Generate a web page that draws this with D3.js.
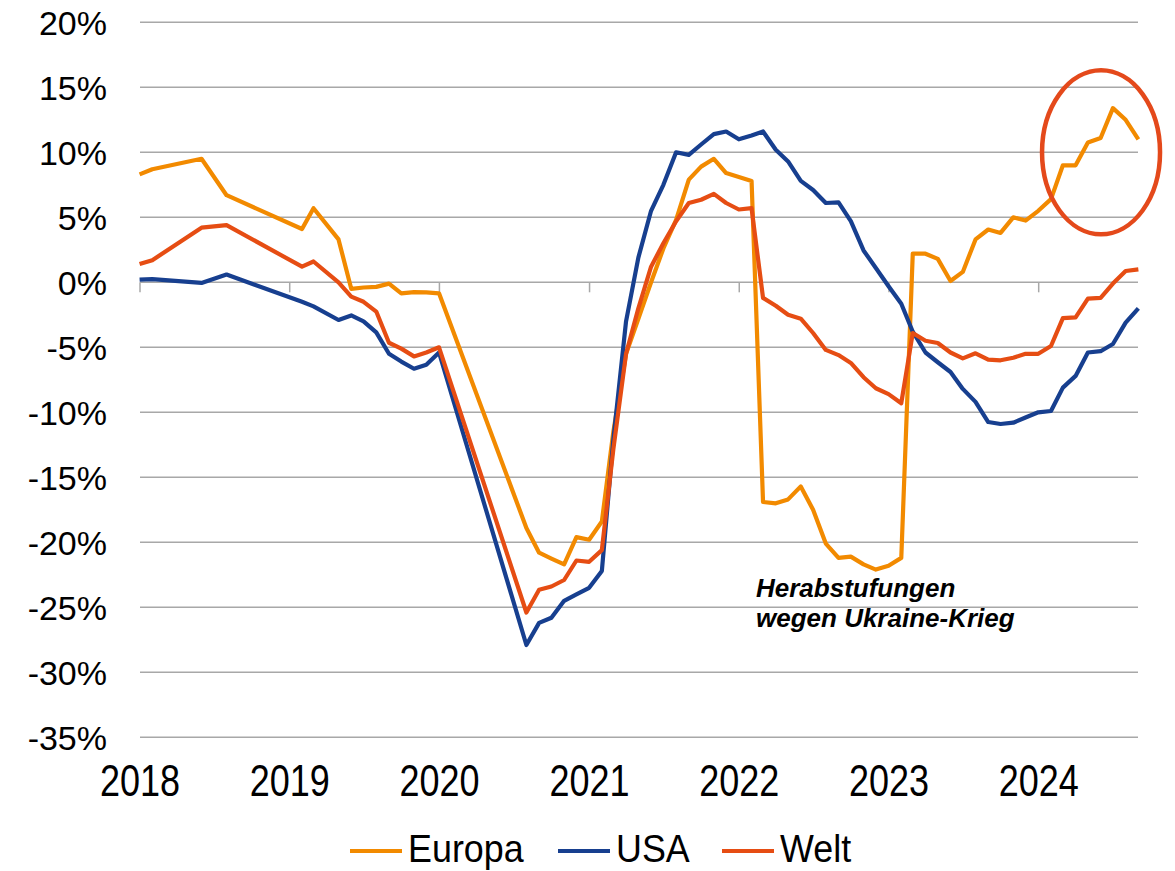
<!DOCTYPE html>
<html>
<head>
<meta charset="utf-8">
<script src="https://cdn.jsdelivr.net/npm/d3@7"></script>
<style>
  body { margin: 0; background: #fff; }
  svg { display: block; }
</style>
</head>
<body>
<div id="chart"></div>
<script>
// month-end observations (first point = end of Dec 2017)
const months = [
  "2017-12", "2018-01", "2018-05", "2018-07",
  "2019-01", "2019-02", "2019-04", "2019-05", "2019-06", "2019-07", "2019-08", "2019-09", "2019-10", "2019-11", "2019-12",
  "2020-07", "2020-08", "2020-09", "2020-10", "2020-11", "2020-12", "2021-01",
  "2021-02", "2021-03", "2021-04", "2021-05", "2021-06", "2021-07", "2021-08", "2021-09", "2021-10", "2021-11", "2021-12",
  "2022-01", "2022-02", "2022-03", "2022-04", "2022-05", "2022-06", "2022-07", "2022-08", "2022-09", "2022-10", "2022-11", "2022-12",
  "2023-01", "2023-02", "2023-03", "2023-04", "2023-05", "2023-06", "2023-07", "2023-08", "2023-09", "2023-10", "2023-11", "2023-12",
  "2024-01", "2024-02", "2024-03", "2024-04", "2024-05", "2024-06", "2024-07", "2024-08"
];

const europa = [
  8.3, 8.7, 9.5, 6.7,
  4.1, 5.7, 3.3, -0.5, -0.4, -0.35, -0.1, -0.85, -0.75, -0.77, -0.85,
  -18.9, -20.8, -21.25, -21.7, -19.6, -19.8, -18.4,
  -11.5, -5.5, -2.8, 0.0, 2.6, 4.8, 7.9, 8.9, 9.5, 8.4, 8.1,
  7.8, -16.9, -17.0, -16.7, -15.7, -17.5, -20.1, -21.2, -21.1, -21.7, -22.1, -21.8,
  -21.2, 2.2, 2.2, 1.8, 0.1, 0.8, 3.3, 4.06, 3.8, 5.0, 4.75, 5.5,
  6.4, 9.0, 9.0, 10.75, 11.1, 13.4, 12.5, 11.0
];

const usa = [
  0.2, 0.25, -0.05, 0.6,
  -1.5, -1.85, -2.9, -2.55, -3.0, -3.85, -5.5, -6.1, -6.65, -6.35, -5.4,
  -27.9, -26.2, -25.8, -24.5, -24.0, -23.5, -22.2,
  -12.1, -3.0, 1.9, 5.5, 7.5, 10.0, 9.8, 10.6, 11.4, 11.6, 11.0,
  11.3, 11.6, 10.2, 9.3, 7.8, 7.1, 6.1, 6.15, 4.7, 2.45, 1.1, -0.3,
  -1.65, -3.8, -5.4, -6.15, -6.9, -8.2, -9.2, -10.75, -10.9, -10.8, -10.4, -10.0,
  -9.9, -8.1, -7.2, -5.4, -5.3, -4.75, -3.1, -2.0
];

const welt = [
  1.4, 1.7, 4.2, 4.4,
  1.2, 1.6, 0.0, -1.1, -1.5, -2.25, -4.65, -5.1, -5.7, -5.4, -5.0,
  -25.4, -23.65, -23.4, -22.9, -21.4, -21.5, -20.6,
  -12.85, -5.5, -2.0, 1.2, 3.0, 4.7, 6.1, 6.35, 6.8, 6.1, 5.6,
  5.7, -1.2, -1.8, -2.5, -2.8, -3.9, -5.2, -5.6, -6.2, -7.3, -8.15, -8.6,
  -9.3, -3.9, -4.5, -4.67, -5.4, -5.85, -5.46, -5.95, -6.0, -5.8, -5.5, -5.5,
  -4.9, -2.76, -2.7, -1.25, -1.2, -0.1, 0.87, 1.0
];

const seriesNames = ["Europa", "USA", "Welt"];
const seriesColors = ["#f28a00", "#173f8f", "#e64d13"];
const yTicks = [20, 15, 10, 5, 0, -5, -10, -15, -20, -25, -30, -35];
const yearTicks = [2018, 2019, 2020, 2021, 2022, 2023, 2024];
const noteLines = ["Herabstufungen", "wegen Ukraine-Krieg"];

const width = 1175, height = 871;
const plotLeft = 140, plotRight = 1138;
const narrowFont = '"Liberation Sans", Arial, sans-serif';

const parseMonth = d3.timeParse("%Y-%m");
const monthEnd = s => d3.timeDay.offset(d3.timeMonth.offset(parseMonth(s), 1), -1);

const x = d3.scaleTime()
  .domain([new Date(2018, 0, 1), new Date(2025, 0, 1)])
  .range([plotLeft, plotLeft + 7 * 149.83]);

const y = d3.scaleLinear()
  .domain([-35, 20])
  .range([737.3, 22.3]);

const svg = d3.select('#chart').append('svg')
  .attr('width', width)
  .attr('height', height)
  .style('background', '#fff');

// horizontal gridlines
svg.append('g').selectAll('line')
  .data(yTicks)
  .enter().append('line')
  .attr('x1', plotLeft)
  .attr('x2', plotRight)
  .attr('y1', d => y(d))
  .attr('y2', d => y(d))
  .attr('stroke', '#a8a8a8')
  .attr('stroke-width', 1.5);

// y labels
svg.append('g').selectAll('text')
  .data(yTicks)
  .enter().append('text')
  .attr('x', 107)
  .attr('y', d => y(d))
  .attr('dy', '0.36em')
  .attr('text-anchor', 'end')
  .style('font-family', '"Liberation Sans", Arial, sans-serif')
  .style('font-size', '34px')
  .attr('fill', '#000')
  .text(d => d + '%');

// year ticks hang below the zero line
svg.append('g').selectAll('line')
  .data(yearTicks)
  .enter().append('line')
  .attr('x1', d => x(new Date(d, 0, 1)))
  .attr('x2', d => x(new Date(d, 0, 1)))
  .attr('y1', y(0))
  .attr('y2', y(0) + 10)
  .attr('stroke', '#a8a8a8')
  .attr('stroke-width', 1.5);

// condensed year labels
svg.append('g').selectAll('text')
  .data(yearTicks)
  .enter().append('text')
  .attr('transform', d => 'translate(' + x(new Date(d, 0, 1)) + ',796) scale(0.8,1)')
  .attr('text-anchor', 'middle')
  .style('font-family', narrowFont)
  .style('font-size', '45px')
  .attr('fill', '#000')
  .text(d => d);

// lines
const dates = months.map(monthEnd);
const line = d3.line()
  .x((d, i) => x(dates[i]))
  .y(d => y(d));

[europa, usa, welt].forEach((vals, k) => {
  svg.append('path')
    .datum(vals)
    .attr('d', line)
    .attr('fill', 'none')
    .attr('stroke', seriesColors[k])
    .attr('stroke-width', 4.2)
    .attr('stroke-linejoin', 'round');
});

// annotation
svg.append('text')
  .style('font-family', '"Liberation Sans", Arial, sans-serif')
  .style('font-size', '26px')
  .style('font-weight', 'bold')
  .style('font-style', 'italic')
  .selectAll('tspan')
  .data(noteLines)
  .enter().append('tspan')
  .attr('x', 756)
  .attr('y', (d, i) => 597 + i * 30)
  .text(d => d);

svg.append('ellipse')
  .attr('cx', x(new Date(2024, 5, 1)))
  .attr('cy', y(10))
  .attr('rx', 59)
  .attr('ry', 82)
  .attr('fill', 'none')
  .attr('stroke', '#e4491b')
  .attr('stroke-width', 4.5);

// legend
const legendX = [350, 558, 722];
const legend = svg.append('g').selectAll('g')
  .data(seriesNames)
  .enter().append('g')
  .attr('transform', (d, i) => 'translate(' + legendX[i] + ',851)');

legend.append('line')
  .attr('x1', 0)
  .attr('x2', 52)
  .attr('stroke', (d, i) => seriesColors[i])
  .attr('stroke-width', 4.2);

legend.append('text')
  .attr('transform', 'translate(58,11) scale(0.92,1)')
  .style('font-family', narrowFont)
  .style('font-size', '39px')
  .attr('fill', '#000')
  .text(d => d);
</script>
</body>
</html>
